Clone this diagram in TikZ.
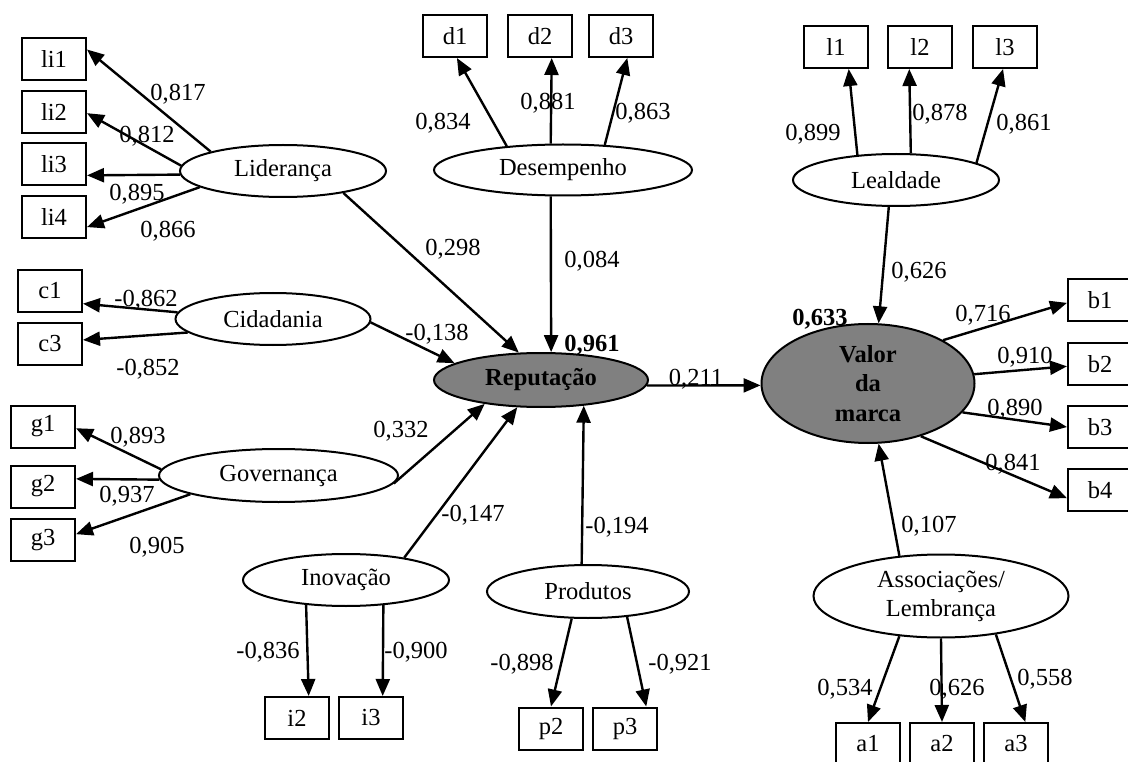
\documentclass[tikz,border=0pt]{standalone}
\usepackage{fontspec}
\setmainfont{Liberation Serif}
\usetikzlibrary{shapes.geometric,arrows.meta}
\begin{document}
\begin{tikzpicture}[x=1pt,y=-1pt,
  font=\fontsize{24.5}{29}\selectfont,
  lat/.style={ellipse,draw,line width=2pt,inner sep=0pt,align=center},
  latc/.style={lat,fill=gray50,font=\fontsize{24.5}{29.5}\selectfont\bfseries},
  ind/.style={rectangle,draw,line width=2pt,inner sep=0pt,minimum width=64pt,minimum height=42pt},
  lbl/.style={inner sep=0pt,text height=16pt,text depth=0pt},
  arr/.style={line width=2.4pt,-{Triangle[length=17pt,width=14pt]}}]
\definecolor{gray50}{RGB}{128,128,128}
\fill[white] (0,0) rectangle (1128,762);
\useasboundingbox (0,0) rectangle (1128,762);

% latent variables
\node[lat,minimum width=206pt,minimum height=52pt] (lid) at (283,171) {Liderança};
\node[lat,minimum width=195pt,minimum height=52pt] (cid) at (273,319) {Cidadania};
\node[lat,minimum width=239pt,minimum height=53pt] (gov) at (278.5,475.5) {Governança};
\node[lat,minimum width=206pt,minimum height=52pt] (ino) at (346,580) {Inovação};
\node[lat,minimum width=202pt,minimum height=53pt] (pro) at (588,591.5) {Produtos};
\node[lat,minimum width=258pt,minimum height=51pt] (des) at (563,170) {Desempenho};
\node[latc,minimum width=214pt,minimum height=54pt] (rep) at (541,380) {Reputação};
\node[lat,minimum width=206pt,minimum height=52pt] (lea) at (896,180) {Lealdade};
\node[latc,minimum width=213pt,minimum height=119pt] (val) at (868,383.5) {Valor\\da\\marca};
\node[lat,minimum width=255pt,minimum height=83pt] (ass) at (941,596) {Associações/\\Lembrança};

% indicators
\node[ind] (li1) at (54,59) {li1};
\node[ind] (li2) at (54,112) {li2};
\node[ind] (li3) at (54,164) {li3};
\node[ind] (li4) at (54,217) {li4};
\node[ind] (c1) at (50,291) {c1};
\node[ind] (c3) at (50,344) {c3};
\node[ind] (g1) at (43,426.5) {g1};
\node[ind] (g2) at (43,486.5) {g2};
\node[ind] (g3) at (43,540) {g3};
\node[ind] (d1) at (455,36) {d1};
\node[ind] (d2) at (540,36) {d2};
\node[ind] (d3) at (621,36) {d3};
\node[ind] (l1) at (836,47) {l1};
\node[ind] (l2) at (920,47) {l2};
\node[ind] (l3) at (1005,47) {l3};
\node[ind] (b1) at (1100,300) {b1};
\node[ind] (b2) at (1100,364) {b2};
\node[ind] (b3) at (1100,427) {b3};
\node[ind] (b4) at (1100,490) {b4};
\node[ind] (i2) at (297,718) {i2};
\node[ind] (i3) at (371,718) {i3};
\node[ind] (p2) at (551,728.5) {p2};
\node[ind] (p3) at (625,728.5) {p3};
\node[ind] (a1) at (868,744) {a1};
\node[ind] (a2) at (942,744) {a2};
\node[ind] (a3) at (1016,744) {a3};

% arrows
\draw[arr] (lid.165) -- (li1.16);
\draw[arr] (lid.177) -- (li2.358);
\draw[arr] (lid.182) -- (li3.341);
\draw[arr] (lid.191) -- (li4.343);
\draw[arr] (lid.340) -- (rep.129);
\draw[arr] (cid.176) -- (c1.339);
\draw[arr] (cid.189) -- (c3.7);
\draw[arr] (cid.358) -- (rep.169);
\draw[arr] (des.157) -- (d1.275);
\draw[arr] (des.115) -- (d2.298);
\draw[arr] (des.31) -- (d3.286);
\draw[arr] (des.245) -- (rep.70);
\draw[arr] (gov.177) -- (g1.357);
\draw[arr] (gov.182) -- (g2.13);
\draw[arr] (gov.192) -- (g3.10);
\draw[arr] (gov.356) -- (rep.203);
\draw[arr] (ino.21) -- (rep.229);
\draw[arr] (ino.212) -- (i2.62);
\draw[arr] (ino.326) -- (i3.62);
\draw[arr] (pro.103) -- (rep.329);
\draw[arr] (pro.239) -- (p2.90);
\draw[arr] (pro.327) -- (p3.46);
\draw[arr] (rep.-3) -- (val.181);
\draw[arr] (lea.147) -- (l1.300);
\draw[arr] (lea.61) -- (l2.244);
\draw[arr] (lea.12) -- (l3.265);
\draw[arr] (lea.255) -- (val.80);
\draw[arr] (val.30) -- (b1.185);
\draw[arr] (val.5) -- (b2.184);
\draw[arr] (val.343) -- (b3.180);
\draw[arr] (val.315) -- (b4.194);
\draw[arr] (ass.136) -- (val.280);
\draw[arr] (ass.224) -- (a1.90);
\draw[arr] (ass.270) -- (a2.90);
\draw[arr] (ass.325) -- (a3.67);

% labels
\node[lbl] (t1) at (178,93) {0,817};
\node[lbl] (t2) at (147,135) {0,812};
\node[lbl] (t3) at (137,193) {0,895};
\node[lbl] (t4) at (168,230) {0,866};
\node[lbl] (t5) at (146,299) {-0,862};
\node[lbl] (t6) at (148,367) {-0,852};
\node[lbl] (t7) at (437,333) {-0,138};
\node[lbl] (t8) at (453,248) {0,298};
\node[lbl] (t9) at (443,122) {0,834};
\node[lbl] (t10) at (548,102) {0,881};
\node[lbl] (t11) at (643,112) {0,863};
\node[lbl] (t12) at (592,260) {0,084};
\node[lbl,font=\fontsize{24.5}{29}\selectfont\bfseries] (t13) at (592,344) {0,961};
\node[lbl] (t14) at (696,377) {0,211};
\node[lbl] (t15) at (813,133) {0,899};
\node[lbl] (t16) at (940,113) {0,878};
\node[lbl] (t17) at (1024,123) {0,861};
\node[lbl] (t18) at (919,271) {0,626};
\node[lbl,font=\fontsize{24.5}{29}\selectfont\bfseries] (t19) at (820,318) {0,633};
\node[lbl] (t20) at (983,313) {0,716};
\node[lbl] (t21) at (1025,355) {0,910};
\node[lbl] (t22) at (1015,407) {0,890};
\node[lbl] (t23) at (1013,462) {0,841};
\node[lbl] (t24) at (929,524) {0,107};
\node[lbl] (t25) at (845,687) {0,534};
\node[lbl] (t26) at (957,687) {0,626};
\node[lbl] (t27) at (1045,677) {0,558};
\node[lbl] (t28) at (138,435) {0,893};
\node[lbl] (t29) at (127,494) {0,937};
\node[lbl] (t30) at (157,545) {0,905};
\node[lbl] (t31) at (401,429) {0,332};
\node[lbl] (t32) at (473,513) {-0,147};
\node[lbl] (t33) at (617,525) {-0,194};
\node[lbl] (t34) at (268,650) {-0,836};
\node[lbl] (t35) at (416,650) {-0,900};
\node[lbl] (t36) at (522,662) {-0,898};
\node[lbl] (t37) at (680,662) {-0,921};
\end{tikzpicture}
\end{document}
